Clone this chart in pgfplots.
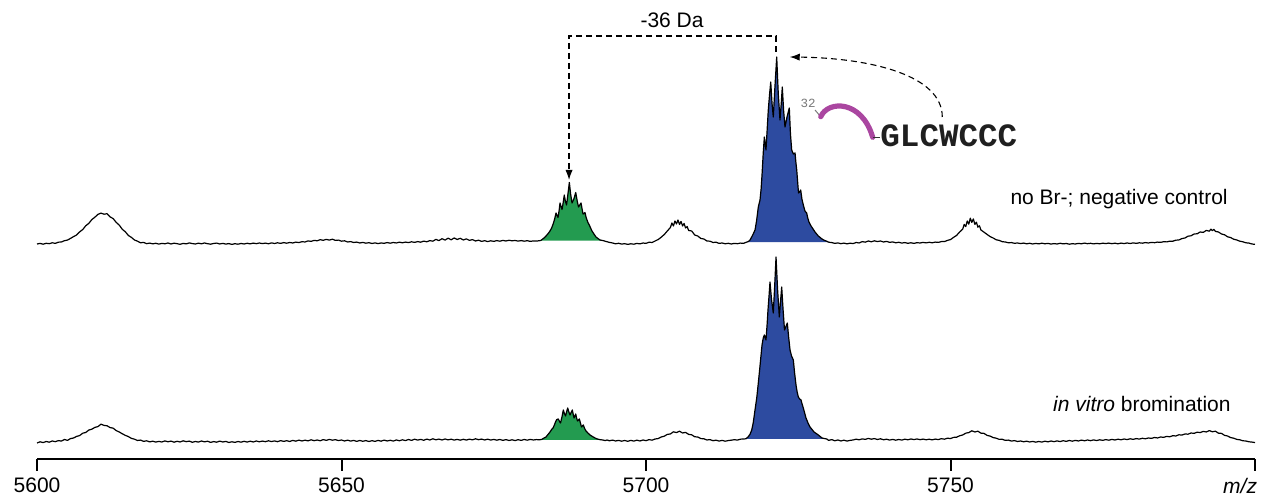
\documentclass[border=0pt]{standalone}
\usepackage{fontspec}
\setmainfont{Liberation Sans}
\newfontfamily\seqfont{Liberation Mono}
\usepackage{pgfplots}
\pgfplotsset{compat=1.18}
\usepackage{pgfplotstable}
\usetikzlibrary{arrows.meta}

\definecolor{isogreen}{RGB}{35,155,80}
\definecolor{isoblue}{RGB}{45,75,160}
\definecolor{linkmag}{RGB}{170,70,160}
\definecolor{seqgray}{RGB}{120,120,120}

% Spectrum without bromide (upper trace, offset above the lower one)
\pgfplotstableread{
m h
5600.0 215.0
5600.5 215.6
5601.0 214.8
5601.5 215.7
5602.0 215.3
5602.5 216.2
5603.0 215.6
5603.5 216.8
5604.0 217.0
5604.5 218.3
5605.0 218.9
5605.5 220.6
5606.0 222.4
5606.5 224.0
5607.0 227.1
5607.5 229.4
5608.0 233.2
5608.5 235.6
5609.0 239.4
5609.5 241.8
5610.0 244.6
5610.5 245.9
5611.0 244.8
5611.5 245.3
5612.0 242.1
5612.5 240.4
5613.0 236.6
5613.5 233.9
5614.0 229.7
5614.5 227.2
5615.0 223.5
5615.5 221.6
5616.0 219.0
5616.5 217.8
5617.0 216.2
5617.5 216.6
5618.0 215.3
5618.5 215.9
5619.0 215.1
5619.5 215.7
5620.0 214.9
5620.5 215.6
5621.0 215.2
5621.5 216.0
5622.0 215.0
5622.5 215.8
5623.0 215.3
5623.5 214.7
5624.0 215.6
5624.5 215.1
5625.0 216.1
5625.5 215.4
5626.0 215.0
5626.5 215.8
5627.0 215.2
5627.5 216.0
5628.0 215.3
5628.5 214.8
5629.0 215.5
5629.5 215.9
5630.0 215.0
5630.5 215.6
5631.0 214.9
5631.5 215.4
5632.0 214.6
5632.5 215.3
5633.0 214.8
5633.5 215.5
5634.0 215.0
5634.5 215.7
5635.0 215.1
5635.5 215.9
5636.0 215.3
5636.5 216.0
5637.0 215.4
5637.5 215.9
5638.0 215.2
5638.5 216.1
5639.0 215.5
5639.5 216.2
5640.0 215.6
5640.5 216.4
5641.0 215.8
5641.5 216.5
5642.0 216.0
5642.5 216.9
5643.0 216.4
5643.5 217.3
5644.0 217.0
5644.5 218.1
5645.0 217.6
5645.5 218.6
5646.0 218.2
5646.5 219.3
5647.0 218.7
5647.5 219.6
5648.0 218.9
5648.5 219.8
5649.0 218.6
5649.5 218.9
5650.0 217.8
5650.5 218.2
5651.0 217.0
5651.5 217.4
5652.0 216.5
5652.5 216.9
5653.0 216.0
5653.5 216.6
5654.0 215.8
5654.5 216.3
5655.0 215.5
5655.5 216.1
5656.0 215.4
5656.5 216.0
5657.0 215.7
5657.5 216.4
5658.0 215.8
5658.5 216.5
5659.0 216.0
5659.5 216.8
5660.0 216.2
5660.5 216.9
5661.0 216.4
5661.5 217.2
5662.0 216.6
5662.5 217.4
5663.0 216.8
5663.5 217.9
5664.0 217.2
5664.5 218.4
5665.0 217.8
5665.5 219.6
5666.0 218.4
5666.5 220.3
5667.0 218.9
5667.5 220.8
5668.0 219.2
5668.5 221.0
5669.0 219.5
5669.5 220.7
5670.0 219.0
5670.5 220.1
5671.0 218.6
5671.5 219.4
5672.0 218.0
5672.5 218.8
5673.0 217.6
5673.5 218.3
5674.0 217.4
5674.5 218.2
5675.0 217.6
5675.5 218.4
5676.0 217.8
5676.5 218.6
5677.0 218.0
5677.5 218.7
5678.0 218.2
5678.5 218.5
5679.0 217.9
5679.5 218.4
5680.0 217.8
5680.5 218.3
5681.0 217.6
5681.5 218.1
5682.0 217.9
5682.5 218.3
5682.75 218.6
5683.0 219.8
5683.25 221.0
5683.5 222.4
5683.75 224.2
5684.0 226.0
5684.25 228.2
5684.5 231.0
5684.75 235.0
5685.0 240.0
5685.22 246.0
5685.4 243.5
5685.55 241.5
5685.72 248.0
5685.88 256.0
5686.05 252.5
5686.21 249.5
5686.4 256.5
5686.58 264.0
5686.75 258.0
5686.95 254.0
5687.18 265.0
5687.41 276.5
5687.62 265.0
5687.85 256.0
5688.15 260.0
5688.46 266.5
5688.7 258.0
5688.92 252.0
5689.12 254.0
5689.33 256.0
5689.5 250.0
5689.66 245.0
5689.82 245.5
5689.98 246.5
5690.15 242.0
5690.31 239.0
5690.5 236.0
5690.69 234.0
5690.9 231.0
5691.13 228.0
5691.45 225.0
5691.79 222.0
5692.1 220.5
5692.45 219.0
5692.75 218.6
5693.0 218.3
5693.5 217.4
5694.0 216.6
5694.5 216.0
5695.0 215.2
5695.5 215.7
5696.0 214.9
5696.5 215.3
5697.0 214.6
5697.5 215.2
5698.0 214.8
5698.5 215.6
5699.0 215.1
5699.5 216.0
5700.0 215.6
5700.5 216.8
5701.0 216.5
5701.5 218.0
5702.0 219.5
5702.5 221.8
5703.0 224.5
5703.5 228.0
5704.0 231.5
5704.25 236.0
5704.5 233.0
5704.75 238.0
5705.0 235.0
5705.25 239.0
5705.5 234.5
5705.75 237.5
5706.0 233.0
5706.25 235.5
5706.5 231.0
5706.75 232.5
5707.0 228.5
5707.5 228.0
5708.0 224.0
5708.5 223.0
5709.0 220.5
5709.5 220.0
5710.0 218.0
5710.5 217.8
5711.0 216.5
5711.5 216.8
5712.0 215.6
5712.5 216.0
5713.0 215.2
5713.5 215.7
5714.0 215.0
5714.5 215.6
5715.0 215.3
5715.5 215.9
5716.0 215.6
5716.5 216.8
5716.8 217.5
5717.08 219.0
5717.35 222.0
5717.6 225.0
5717.9 229.0
5718.15 238.0
5718.44 252.0
5718.72 259.0
5718.9 270.0
5719.05 284.0
5719.25 306.0
5719.43 322.0
5719.57 315.0
5719.7 309.0
5719.9 330.0
5720.08 349.0
5720.28 364.0
5720.48 377.0
5720.7 355.0
5720.9 342.0
5721.15 370.0
5721.46 402.0
5721.72 365.0
5722.0 339.0
5722.2 355.0
5722.38 372.0
5722.6 348.0
5722.82 332.0
5723.15 342.0
5723.53 351.0
5723.72 325.0
5723.92 309.0
5724.2 305.0
5724.47 306.0
5724.62 296.0
5724.75 289.0
5725.04 266.0
5725.2 267.0
5725.4 269.0
5725.6 260.0
5725.83 254.0
5726.1 248.0
5726.38 246.0
5726.56 241.0
5726.76 237.0
5727.0 234.0
5727.21 232.0
5727.75 227.0
5728.29 223.0
5728.9 220.0
5729.3 218.6
5729.67 217.8
5730.0 216.8
5730.5 216.4
5731.0 215.6
5731.5 216.1
5732.0 215.3
5732.5 215.9
5733.0 215.1
5733.5 215.8
5734.0 215.4
5734.5 216.5
5735.0 216.0
5735.5 217.4
5736.0 216.8
5736.5 218.0
5737.0 217.2
5737.5 218.2
5738.0 217.4
5738.5 218.0
5739.0 217.0
5739.5 217.6
5740.0 216.6
5740.5 217.1
5741.0 216.2
5741.5 216.7
5742.0 215.9
5742.5 216.4
5743.0 215.7
5743.5 216.2
5744.0 215.6
5744.5 216.3
5745.0 216.0
5745.5 216.6
5746.0 216.1
5746.5 216.7
5747.0 216.2
5747.5 216.9
5748.0 216.6
5748.5 217.4
5749.0 217.4
5749.5 218.6
5750.0 219.4
5750.5 221.6
5751.0 223.6
5751.5 227.0
5752.0 229.8
5752.25 234.6
5752.5 232.4
5752.75 238.0
5753.0 234.8
5753.25 240.8
5753.5 236.6
5753.75 240.0
5754.0 234.6
5754.25 236.8
5754.5 231.8
5754.75 233.2
5755.0 229.0
5755.5 226.8
5756.0 224.6
5756.5 222.4
5757.0 221.0
5757.5 219.2
5758.0 218.6
5758.5 217.3
5759.0 217.0
5759.5 216.2
5760.0 216.4
5760.5 215.7
5761.0 216.0
5761.5 215.4
5762.0 215.9
5762.5 215.2
5763.0 215.7
5763.5 215.0
5764.0 215.6
5764.5 215.1
5765.0 215.8
5765.5 215.2
5766.0 215.6
5766.5 214.9
5767.0 215.4
5767.5 215.0
5768.0 215.7
5768.5 215.1
5769.0 215.5
5769.5 214.8
5770.0 215.3
5770.5 215.0
5771.0 215.6
5771.5 215.2
5772.0 215.9
5772.5 215.3
5773.0 215.7
5773.5 215.1
5774.0 215.6
5774.5 215.2
5775.0 215.8
5775.5 215.4
5776.0 215.9
5776.5 215.3
5777.0 215.8
5777.5 215.2
5778.0 215.9
5778.5 215.4
5779.0 216.0
5779.5 215.5
5780.0 216.1
5780.5 215.6
5781.0 216.2
5781.5 215.8
5782.0 216.4
5782.5 216.0
5783.0 216.6
5783.5 216.3
5784.0 216.9
5784.5 216.6
5785.0 217.3
5785.5 217.1
5786.0 217.8
5786.5 217.8
5787.0 218.8
5787.5 219.0
5788.0 220.4
5788.5 221.0
5789.0 222.8
5789.5 223.2
5790.0 225.0
5790.5 225.2
5791.0 227.0
5791.5 226.6
5792.0 228.6
5792.5 227.8
5792.75 229.8
5793.0 228.4
5793.25 229.6
5793.5 227.6
5794.0 227.0
5794.5 225.0
5795.0 224.2
5795.5 222.2
5796.0 221.4
5796.5 219.8
5797.0 219.0
5797.5 217.8
5798.0 217.2
5798.5 216.2
5799.0 215.9
5799.5 215.0
5800.0 214.6
}\toptrace

% Spectrum after in vitro bromination (lower trace)
\pgfplotstableread{
m h
5600.0 16.0
5600.5 17.2
5601.0 16.4
5601.5 17.5
5602.0 16.8
5602.5 18.0
5603.0 17.3
5603.5 18.4
5604.0 17.9
5604.5 19.5
5605.0 18.6
5605.5 20.4
5606.0 21.0
5606.5 22.6
5607.0 23.4
5607.5 25.8
5608.0 26.5
5608.5 28.9
5609.0 29.8
5609.5 31.6
5610.0 32.4
5610.5 34.8
5611.0 33.6
5611.5 33.2
5612.0 31.4
5612.5 30.8
5613.0 28.4
5613.5 27.0
5614.0 25.2
5614.5 23.6
5615.0 22.4
5615.5 20.6
5616.0 19.8
5616.5 18.5
5617.0 18.9
5617.5 17.6
5618.0 18.2
5618.5 17.1
5619.0 17.8
5619.5 16.9
5620.0 17.6
5620.5 17.0
5621.0 18.1
5621.5 17.2
5622.0 17.9
5622.5 16.8
5623.0 17.7
5623.5 17.0
5624.0 18.2
5624.5 17.3
5625.0 17.9
5625.5 16.7
5626.0 17.5
5626.5 16.9
5627.0 18.0
5627.5 17.1
5628.0 17.8
5628.5 16.6
5629.0 17.4
5629.5 16.8
5630.0 17.9
5630.5 17.0
5631.0 17.6
5631.5 16.5
5632.0 17.2
5632.5 16.6
5633.0 17.5
5633.5 16.8
5634.0 17.7
5634.5 16.9
5635.0 17.8
5635.5 17.0
5636.0 18.0
5636.5 17.2
5637.0 17.9
5637.5 17.3
5638.0 18.2
5638.5 17.4
5639.0 18.1
5639.5 17.3
5640.0 18.4
5640.5 17.6
5641.0 18.3
5641.5 17.5
5642.0 18.6
5642.5 17.8
5643.0 18.9
5643.5 18.0
5644.0 18.8
5644.5 18.1
5645.0 19.2
5645.5 18.3
5646.0 19.0
5646.5 18.2
5647.0 19.4
5647.5 18.6
5648.0 19.6
5648.5 18.8
5649.0 19.3
5649.5 18.4
5650.0 19.0
5650.5 18.0
5651.0 18.8
5651.5 17.9
5652.0 18.6
5652.5 17.6
5653.0 18.5
5653.5 17.7
5654.0 18.4
5654.5 17.5
5655.0 18.3
5655.5 17.6
5656.0 18.6
5656.5 17.8
5657.0 18.9
5657.5 18.0
5658.0 18.7
5658.5 17.9
5659.0 19.0
5659.5 18.2
5660.0 19.2
5660.5 18.4
5661.0 19.5
5661.5 18.6
5662.0 19.8
5662.5 18.9
5663.0 19.6
5663.5 18.7
5664.0 19.9
5664.5 19.0
5665.0 20.2
5665.5 19.2
5666.0 19.9
5666.5 19.0
5667.0 20.0
5667.5 19.1
5668.0 19.8
5668.5 18.9
5669.0 19.6
5669.5 18.8
5670.0 19.7
5670.5 18.9
5671.0 19.9
5671.5 19.1
5672.0 20.2
5672.5 19.3
5673.0 19.9
5673.5 19.0
5674.0 19.8
5674.5 18.9
5675.0 19.6
5675.5 18.8
5676.0 19.5
5676.5 18.6
5677.0 19.4
5677.5 18.5
5678.0 19.2
5678.5 18.4
5679.0 19.3
5679.5 18.6
5680.0 19.5
5680.5 18.8
5681.0 19.6
5681.5 19.0
5682.0 19.4
5682.5 19.2
5682.87 19.6
5683.2 20.8
5683.58 22.0
5683.9 24.5
5684.24 27.0
5684.5 29.5
5684.73 31.0
5684.95 34.0
5685.14 37.0
5685.35 39.5
5685.6 40.0
5685.8 37.5
5685.96 36.0
5686.2 42.0
5686.42 49.0
5686.6 45.5
5686.78 43.0
5686.95 47.0
5687.14 51.0
5687.33 47.0
5687.52 44.0
5687.7 46.5
5687.9 49.0
5688.05 44.5
5688.18 41.0
5688.32 43.0
5688.46 45.0
5688.6 41.0
5688.75 38.0
5688.9 39.0
5689.05 40.0
5689.23 36.0
5689.41 32.0
5689.55 33.0
5689.7 34.0
5689.92 30.5
5690.15 28.0
5690.45 26.0
5690.8 24.0
5691.2 22.5
5691.63 21.0
5692.0 20.0
5692.45 19.3
5692.9 19.0
5693.3 18.4
5693.6 19.0
5694.0 18.2
5694.5 18.9
5695.0 18.0
5695.5 18.6
5696.0 17.8
5696.5 18.5
5697.0 17.7
5697.5 18.6
5698.0 17.9
5698.5 18.8
5699.0 18.0
5699.5 19.0
5700.0 18.3
5700.5 19.4
5701.0 18.8
5701.5 20.0
5702.0 20.4
5702.5 22.0
5703.0 22.8
5703.5 24.6
5704.0 25.0
5704.5 27.2
5705.0 26.4
5705.5 27.8
5706.0 26.0
5706.5 26.6
5707.0 24.6
5707.5 24.2
5708.0 22.2
5708.5 22.0
5709.0 20.4
5709.5 20.2
5710.0 19.0
5710.5 19.4
5711.0 18.3
5711.5 18.8
5712.0 17.9
5712.5 18.6
5713.0 17.8
5713.5 18.4
5714.0 18.8
5714.5 19.3
5715.0 18.9
5715.5 19.8
5716.0 20.0
5716.4 20.2
5716.8 22.3
5717.1 25.0
5717.36 29.0
5717.6 36.0
5717.9 49.0
5718.2 62.0
5718.44 76.0
5718.75 95.0
5719.05 114.0
5719.25 121.0
5719.43 124.0
5719.57 121.0
5719.7 119.0
5719.88 134.0
5720.03 149.0
5720.2 163.0
5720.36 177.0
5720.6 160.0
5720.9 146.0
5721.12 172.0
5721.35 202.0
5721.6 170.0
5721.89 142.0
5722.08 157.0
5722.28 172.0
5722.5 150.0
5722.74 129.0
5722.95 132.0
5723.2 136.0
5723.42 122.0
5723.65 109.0
5723.9 103.0
5724.19 99.0
5724.4 86.0
5724.63 74.0
5724.82 67.0
5725.01 62.0
5725.23 60.0
5725.45 59.0
5725.63 55.0
5725.83 51.0
5726.05 46.0
5726.27 41.0
5726.6 36.0
5726.93 32.0
5727.26 29.5
5727.59 27.0
5727.95 25.5
5728.29 24.0
5728.6 22.5
5728.9 21.0
5729.3 20.4
5729.67 20.0
5730.0 18.6
5730.5 19.4
5731.0 18.2
5731.5 19.0
5732.0 18.0
5732.5 18.8
5733.0 17.9
5733.5 18.6
5734.0 19.0
5734.5 19.8
5735.0 19.2
5735.5 20.1
5736.0 19.6
5736.5 20.6
5737.0 19.8
5737.5 20.4
5738.0 19.5
5738.5 20.2
5739.0 19.2
5739.5 19.8
5740.0 18.9
5740.5 19.6
5741.0 18.8
5741.5 19.5
5742.0 18.9
5742.5 19.8
5743.0 19.2
5743.5 20.0
5744.0 19.4
5744.5 20.0
5745.0 19.3
5745.5 19.9
5746.0 19.2
5746.5 19.8
5747.0 19.1
5747.5 19.9
5748.0 19.4
5748.5 20.3
5749.0 19.8
5749.5 20.8
5750.0 20.4
5750.5 21.6
5751.0 21.8
5751.5 23.2
5752.0 24.0
5752.5 25.8
5753.0 26.4
5753.5 28.2
5754.0 27.0
5754.5 27.8
5755.0 25.8
5755.5 25.6
5756.0 23.6
5756.5 22.9
5757.0 21.4
5757.5 20.8
5758.0 19.6
5758.5 19.7
5759.0 18.6
5759.5 18.9
5760.0 17.9
5760.5 18.4
5761.0 17.5
5761.5 18.0
5762.0 17.2
5762.5 17.8
5763.0 17.0
5763.5 17.6
5764.0 16.8
5764.5 17.5
5765.0 16.9
5765.5 17.8
5766.0 17.1
5766.5 18.0
5767.0 17.3
5767.5 18.1
5768.0 17.4
5768.5 18.3
5769.0 17.6
5769.5 18.5
5770.0 17.8
5770.5 18.6
5771.0 18.0
5771.5 18.9
5772.0 18.2
5772.5 19.0
5773.0 18.3
5773.5 19.1
5774.0 18.4
5774.5 19.2
5775.0 18.6
5775.5 19.4
5776.0 18.8
5776.5 19.6
5777.0 19.0
5777.5 19.8
5778.0 19.2
5778.5 20.0
5779.0 19.4
5779.5 20.2
5780.0 19.6
5780.5 20.4
5781.0 19.9
5781.5 20.7
5782.0 20.2
5782.5 21.0
5783.0 20.6
5783.5 21.5
5784.0 21.0
5784.5 22.0
5785.0 21.6
5785.5 22.6
5786.0 22.2
5786.5 23.3
5787.0 23.0
5787.5 24.2
5788.0 23.9
5788.5 25.0
5789.0 24.8
5789.5 26.0
5790.0 25.6
5790.5 26.8
5791.0 26.4
5791.5 27.6
5792.0 27.0
5792.5 28.4
5793.0 27.2
5793.5 27.8
5794.0 25.8
5794.5 25.6
5795.0 23.6
5795.5 23.0
5796.0 21.4
5796.5 20.8
5797.0 19.6
5797.5 19.2
5798.0 18.2
5798.5 18.0
5799.0 17.2
5799.5 16.9
5800.0 16.4
}\bottomtrace

\begin{document}
\begin{tikzpicture}
\begin{axis}[
  scale only axis,
  width=609pt, height=229.5pt,
  xmin=5600, xmax=5800, ymin=0, ymax=459,
  axis x line=bottom, axis y line=none,
  every outer x axis line/.append style={-, line width=1.25pt},
  every inner x axis line/.append style={-, line width=1.25pt},
  ytick=\empty,
  xtick={5600,5650,5700,5750,5800},
  xticklabels={5600,5650,5700,5750,\makebox[0pt][r]{\textit{m/z}\hspace{-1pt}}},
  tick align=outside,
  major tick length=6pt,
  every tick/.style={black, line width=1pt},
  xticklabel style={font=\fontsize{10.5}{12}\selectfont},
  clip=false,
]
% isotope envelopes of the two species, filled down to the trace baseline
\addplot[draw=none, fill=isogreen, restrict x to domain=5682.45:5693.05]
  table[x=m, y=h] {\toptrace} -- cycle;
\addplot[draw=none, fill=isoblue, restrict x to domain=5716.45:5730.05]
  table[x=m, y=h] {\toptrace} -- cycle;
\addplot[draw=none, fill=isogreen, restrict x to domain=5682.45:5692.95]
  table[x=m, y=h] {\bottomtrace} -- cycle;
\addplot[draw=none, fill=isoblue, restrict x to domain=5716.35:5729.7]
  table[x=m, y=h] {\bottomtrace} -- cycle;

% the two spectra
\addplot[black, line width=0.6pt, line join=round] table[x=m, y=h] {\toptrace};
\addplot[black, line width=0.6pt, line join=round] table[x=m, y=h] {\bottomtrace};

% mass shift bracket
\draw[line width=0.55pt, dash pattern=on 3pt off 2pt, -{Latex[length=5pt,width=3.6pt]}]
  (axis cs:5721.35,407) -- (axis cs:5721.35,423) -- (axis cs:5687.36,423) -- (axis cs:5687.36,279);
\node[anchor=base, font=\fontsize{10.5}{12}\selectfont] at (axis cs:5704.27,431) {-36 Da};

% pointer from the peptide to the parent peak
\draw[line width=0.55pt, dash pattern=on 3pt off 2pt, -{Latex[length=5pt,width=3.6pt]}]
  (axis cs:5748.65,342) .. controls (axis cs:5748.65,384) and (axis cs:5736.8,401) .. (axis cs:5723.6,402);

% peptide sketch
\draw[seqgray, line width=0.5pt] (axis cs:5727.75,349) -- (axis cs:5728.69,342.3);
\node[seqgray, font=\seqfont\fontsize{6.25}{7}\selectfont, inner sep=0pt] at (axis cs:5726.6,356) {32};
\draw[linkmag, line width=2.6pt, line cap=round]
  (axis cs:5728.69,342.3) .. controls (axis cs:5729.88,359) and (axis cs:5735.47,359) .. (axis cs:5737.22,321.7);
\draw[black!80, line width=0.6pt] (axis cs:5737.22,321.7) -- (axis cs:5738.42,321.7);
\node[anchor=base west, inner sep=0pt, text=black!88, font=\seqfont\bfseries\fontsize{16.3}{18}\selectfont]
  at (axis cs:5738.42,312) {GLCWCCC};

% trace captions
\node[anchor=base east, inner sep=0pt, font=\fontsize{10.5}{12}\selectfont] at (axis cs:5795.57,254) {no Br-; negative control};
\node[anchor=base east, inner sep=0pt, font=\fontsize{10.5}{12}\selectfont] at (axis cs:5796.06,47) {\textit{in vitro} bromination};

\coordinate (bbsw) at (axis cs:5593.92,-38);
\coordinate (bbne) at (axis cs:5801.15,459);
\end{axis}
\pgfresetboundingbox
\useasboundingbox (bbsw) rectangle (bbne);
\end{tikzpicture}
\end{document}
